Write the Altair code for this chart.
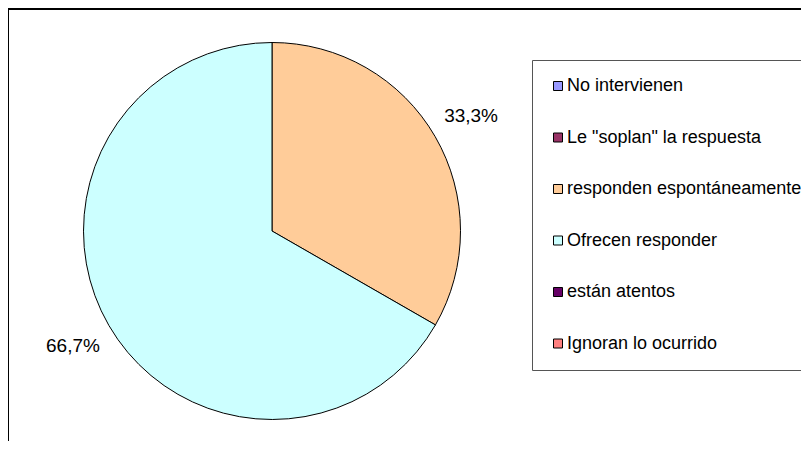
import altair as alt
import pandas as pd

categories = ["No intervienen", 'Le "soplan" la respuesta', "responden espontáneamente",
              "Ofrecen responder", "están atentos", "Ignoran lo ocurrido"]
values = [0, 0, 33.3, 66.7, 0, 0]
labels = ["", "", "33,3%", "66,7%", "", ""]
colors = ["#9999FF", "#993366", "#FFCC99", "#CCFFFF", "#660066", "#FF8080"]

df = pd.DataFrame({"cat": categories, "val": values, "lab": labels,
                   "idx": list(range(len(categories)))})

W, H = 793, 433
CX, CY, R = 264, 223, 188.5
FONT = "Liberation Sans"

base = alt.Chart(df).transform_filter("datum.val > 0")

frame = alt.Chart(df).mark_rect(fill=None, stroke="black", strokeWidth=2).encode(
    x=alt.value(0), x2=alt.value(2000), y=alt.value(1), y2=alt.value(2000)
).transform_filter("datum.idx == 0")

pie = base.mark_arc(outerRadius=R, stroke="black", strokeWidth=1).encode(
    theta=alt.Theta("val:Q", stack=True),
    order=alt.Order("idx:Q"),
    color=alt.Color("cat:N", scale=alt.Scale(domain=categories, range=colors),
                    legend=alt.Legend(title=None, orient="none", legendX=524, legendY=52,
                                      direction="vertical", symbolType="square",
                                      symbolSize=81, symbolStrokeColor="black",
                                      symbolStrokeWidth=1, labelFont=FONT,
                                      labelFontSize=18, labelColor="black",
                                      labelOffset=0, rowPadding=33.5, padding=17,
                                      strokeColor="#555555", fillColor="white",
                                      labelLimit=400)),
    x=alt.value(CX), y=alt.value(CY),
)

text = base.mark_text(radius=230, font=FONT, fontSize=19, color="black").encode(
    theta=alt.Theta("val:Q", stack=True),
    order=alt.Order("idx:Q"),
    text="lab:N",
    x=alt.value(CX), y=alt.value(CY),
)

chart = alt.layer(frame, pie, text).properties(
    width=W, height=H, autosize=alt.AutoSizeParams(type="none"), padding=0
).configure_view(stroke=None).configure(background="white")

chart.save("out.html", embed_options={"renderer": "svg", "actions": False})
